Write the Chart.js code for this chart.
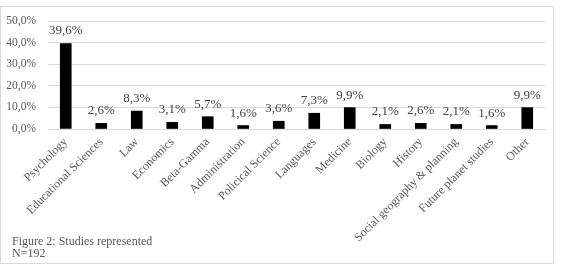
<!DOCTYPE html>
<html>
<head>
<meta charset="utf-8">
<script src="https://cdn.jsdelivr.net/npm/chart.js@4"></script>
<style>
  html, body { margin: 0; padding: 0; background: #fff; }
  #wrap { position: relative; width: 564px; height: 268px; }
  #frame { position: absolute; left: 0; top: 6px; width: 552px; height: 256px; border: 1px solid #d9d9d9; box-sizing: content-box; pointer-events: none; }
  canvas { position: absolute; left: 0; top: 0; }
  .cap { position: absolute; left: 12px; font-family: "Liberation Serif", "Times New Roman", serif; font-size: 12px; color: #595959; line-height: 12px; white-space: nowrap; }
</style>
</head>
<body>
<div id="wrap">
  <canvas id="c" width="564" height="268"></canvas>
  <div id="frame"></div>
  <div class="cap" style="top:235px">Figure 2: Studies represented</div>
  <div class="cap" style="top:247px">N=192</div>
</div>
<script>
const categories = ["Psychology", "Educational Sciences", "Law", "Economics", "Beta-Gamma", "Administration", "Policical Science", "Languages", "Medicine", "Biology", "History", "Social geography & planning", "Future planet studies", "Other"];
const shares = [39.6, 2.6, 8.3, 3.1, 5.7, 1.6, 3.6, 7.3, 9.9, 2.1, 2.6, 2.1, 1.6, 9.9];
const yTicks = [0, 10, 20, 30, 40, 50];

const FONT = '"Liberation Serif", "Times New Roman", serif';
const fmt = v => v.toFixed(1).replace('.', ',') + '%';

const valueLabels = {
  id: 'valueLabels',
  afterDatasetsDraw(chart) {
    const ctx = chart.ctx;
    const meta = chart.getDatasetMeta(0);
    ctx.save();
    ctx.font = '13px ' + FONT;
    ctx.fillStyle = '#404040';
    ctx.textAlign = 'center';
    ctx.textBaseline = 'alphabetic';
    meta.data.forEach((el, i) => {
      ctx.fillText(fmt(shares[i]), el.x, el.y - 9);
    });
    ctx.restore();
  }
};

new Chart(document.getElementById('c'), {
  type: 'bar',
  data: {
    labels: categories,
    datasets: [{
      data: shares,
      backgroundColor: '#000000',
      borderWidth: 0,
      barThickness: 11
    }]
  },
  options: {
    responsive: false,
    animation: false,
    devicePixelRatio: 1,
    layout: { padding: { left: 0, right: 19, top: 21, bottom: 0 } },
    plugins: { legend: { display: false }, tooltip: { enabled: false } },
    scales: {
      y: {
        min: 0, max: 50,
        afterBuildTicks: s => { s.ticks = yTicks.map(v => ({ value: v })); },
        afterFit: s => { s.width = 48; },
        border: { display: false },
        grid: { color: '#d9d9d9', drawTicks: false, lineWidth: 1 },
        ticks: {
          padding: 12,
          color: '#595959',
          font: { family: FONT, size: 11.5 },
          callback: v => fmt(v)
        }
      },
      x: {
        afterFit: s => { s.height = 139; },
        border: { display: true, color: '#d9d9d9' },
        grid: { display: false, drawTicks: false },
        ticks: {
          autoSkip: false,
          minRotation: 45,
          maxRotation: 45,
          padding: 6,
          color: '#595959',
          font: { family: FONT, size: 12 }
        }
      }
    }
  },
  plugins: [valueLabels]
});
</script>
</body>
</html>
